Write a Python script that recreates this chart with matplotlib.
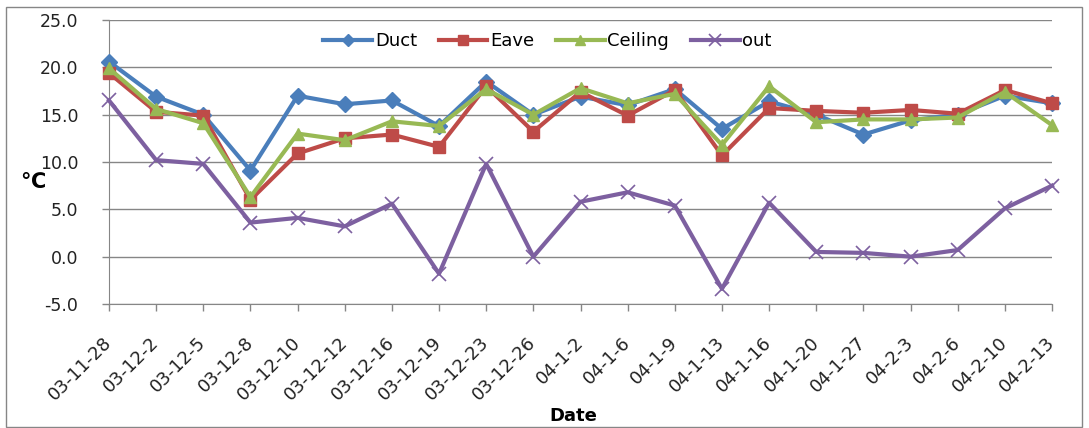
import numpy as np
import matplotlib.pyplot as plt
from matplotlib.patches import Rectangle

dates = ['03-11-28', '03-12-2', '03-12-5', '03-12-8', '03-12-10', '03-12-12',
         '03-12-16', '03-12-19', '03-12-23', '03-12-26', '04-1-2', '04-1-6',
         '04-1-9', '04-1-13', '04-1-16', '04-1-20', '04-1-27', '04-2-3',
         '04-2-6', '04-2-10', '04-2-13']

duct = [20.6, 16.9, 15.0, 9.1, 17.0, 16.1, 16.5, 13.8, 18.5, 15.0, 16.9,
        16.0, 17.7, 13.5, 16.4, 15.0, 12.9, 14.4, 15.0, 17.0, 16.2]
eave = [19.4, 15.3, 14.9, 6.0, 10.9, 12.5, 12.9, 11.6, 18.0, 13.2, 17.4,
        14.9, 17.6, 10.7, 15.7, 15.4, 15.2, 15.5, 15.1, 17.6, 16.2]
ceiling = [19.9, 15.6, 14.1, 6.3, 13.0, 12.3, 14.3, 13.8, 17.7, 15.0, 17.8,
           16.2, 17.2, 11.8, 18.0, 14.2, 14.5, 14.5, 14.7, 17.4, 13.9]
out = [16.5, 10.2, 9.8, 3.6, 4.1, 3.2, 5.6, -1.8, 9.8, 0.0, 5.8,
       6.8, 5.4, -3.4, 5.7, 0.5, 0.4, 0.0, 0.7, 5.1, 7.5]

plt.rcParams['font.family'] = ['DejaVu Sans']

fig = plt.figure(figsize=(10.89, 4.28), dpi=100)
ax = fig.add_axes([109 / 1089, 124 / 428, 943 / 1089, 284 / 428])

x = np.arange(len(dates))
ax.plot(x, duct, color='#4A7EBB', lw=3, marker='D', ms=8, label='Duct', clip_on=False, zorder=3)
ax.plot(x, eave, color='#BE4B48', lw=3, marker='s', ms=9, label='Eave', clip_on=False, zorder=4)
ax.plot(x, ceiling, color='#98B954', lw=3, marker='^', ms=9, label='Ceiling', clip_on=False, zorder=5)
ax.plot(x, out, color='#7D60A0', lw=3, marker='x', ms=10, mew=1.2, label='out', clip_on=False, zorder=6)

ax.set_xlim(0, len(dates) - 1)
ax.set_ylim(-5, 25)
ax.set_yticks(np.arange(-5, 26, 5))
ax.set_yticklabels(['%.1f' % v for v in np.arange(-5, 26, 5)], fontsize=12.5, color='#222222')
ax.set_xticks(x)
ax.set_xticklabels(dates, rotation=45, ha='right', va='center', rotation_mode='anchor',
                   fontsize=13, color='#222222')
ax.yaxis.grid(True, color='#868686', lw=1)
ax.set_axisbelow(True)
for s in ['top', 'right']:
    ax.spines[s].set_visible(False)
for s in ['left', 'bottom']:
    ax.spines[s].set_color('#868686')
ax.tick_params(axis='both', color='#868686', length=5, width=1)
ax.tick_params(axis='y', pad=17)
ax.tick_params(axis='x', pad=21)

ax.set_xlabel('Date', fontsize=13, fontweight='bold', va='center')
ax.xaxis.set_label_coords(0.492, -0.394)
ax.set_ylabel('℃', fontsize=15, fontweight='bold', rotation=0, va='center', ha='center')
ax.yaxis.set_label_coords(-0.081, 0.43)

ax.legend(loc='center', bbox_to_anchor=(0.465, 0.926), ncol=4, frameon=False,
          fontsize=13, handlelength=2.7, handletextpad=0.15, columnspacing=1.2,
          markerscale=0.8)

fig.patches.append(Rectangle((6 / 1089, 1 / 428), 1076 / 1089, 420 / 428,
                             transform=fig.transFigure, fill=False,
                             edgecolor='#868686', lw=1))

fig.savefig('out.png', dpi=100)
